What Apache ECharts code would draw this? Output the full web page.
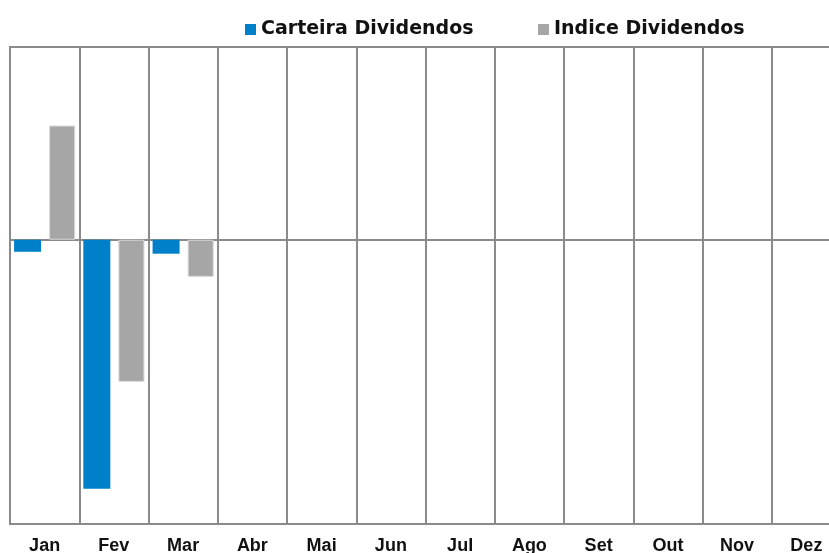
<!DOCTYPE html>
<html>
<head>
<meta charset="utf-8">
<script src="https://cdn.jsdelivr.net/npm/echarts@6/dist/echarts.min.js"></script>
<style>
html,body{margin:0;padding:0;background:#fff;overflow:hidden;}
#c{width:845px;height:553px;}
</style>
</head>
<body>
<div id="c"></div>
<script>
const months = ['Jan','Fev','Mar','Abr','Mai','Jun','Jul','Ago','Set','Out','Nov','Dez'];
const carteira = [-0.25, -5.17, -0.29, null, null, null, null, null, null, null, null, null];
const indice = [2.37, -2.95, -0.77, null, null, null, null, null, null, null, null, null];
const seriesNames = ['Carteira Dividendos', 'Indice Dividendos'];

const lineColor = '#8a8a8a';
const chart = echarts.init(document.getElementById('c'), null, {renderer: 'canvas'});
const legendText = {fontFamily: 'DejaVu Sans', fontWeight: 'bold', fontSize: 19, color: '#111'};
chart.setOption({
  animation: false,
  backgroundColor: '#fff',
  legend: [
    {data: [seriesNames[0]], left: 240, top: 15, itemWidth: 11, itemHeight: 11, icon: 'rect', itemStyle: {borderWidth: 0}, textStyle: legendText},
    {data: [seriesNames[1]], left: 533, top: 15, itemWidth: 11, itemHeight: 11, icon: 'rect', itemStyle: {borderWidth: 0}, textStyle: legendText}
  ],
  grid: {left: 10, top: 47, width: 831, height: 477, show: true, borderColor: lineColor, borderWidth: 2, containLabel: false, outerBoundsMode: 'none'},
  xAxis: [
    {
      type: 'category', data: months, position: 'bottom',
      axisLine: {onZero: false, lineStyle: {color: lineColor, width: 2}},
      axisTick: {show: false},
      splitLine: {show: true, interval: 0, lineStyle: {color: lineColor, width: 2}},
      axisLabel: {interval: 0, margin: 13, fontFamily: 'Liberation Sans', fontWeight: 'bold', fontSize: 18, color: '#111'}
    },
    {
      type: 'category', data: months, position: 'bottom',
      axisLine: {onZero: true, lineStyle: {color: lineColor, width: 2}},
      axisTick: {show: false}, axisLabel: {show: false}, splitLine: {show: false}
    }
  ],
  yAxis: {
    type: 'value', min: -5.9, max: 4,
    axisLine: {show: true, lineStyle: {color: lineColor, width: 2}},
    axisTick: {show: false}, axisLabel: {show: false}, splitLine: {show: false}
  },
  series: [
    {name: seriesNames[0], type: 'bar', data: carteira, barWidth: 27, barGap: '30%', itemStyle: {color: '#0080c8'}},
    {name: seriesNames[1], type: 'bar', data: indice, barWidth: 26, barGap: '30%', itemStyle: {color: '#a6a6a6', borderColor: '#d8d8d8', borderWidth: 1}}
  ]
});
</script>
</body>
</html>
